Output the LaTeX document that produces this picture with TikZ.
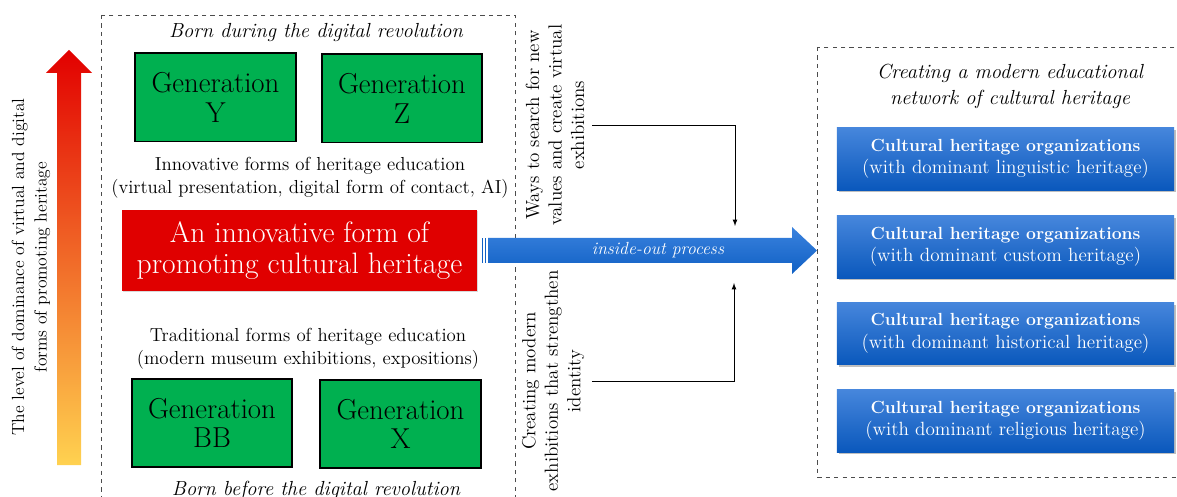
\documentclass[tikz,border=0pt]{standalone}
\usetikzlibrary{arrows,shapes}
\usetikzlibrary{shadows}
\usetikzlibrary{positioning}
\definecolor{gengreen}{RGB}{0,176,80}
\definecolor{promored}{RGB}{224,0,0}
\definecolor{orgtop}{RGB}{70,134,220}
\definecolor{orgbot}{RGB}{10,88,188}
\definecolor{flowtop}{RGB}{58,130,222}
\definecolor{flowbot}{RGB}{16,96,196}
\definecolor{lvlred}{RGB}{226,0,0}
\definecolor{lvlorange}{RGB}{255,136,0}
\definecolor{lvlyellow}{RGB}{255,210,80}
\tikzset{
    generation/.style={draw=black, line width=1.4pt, fill=gengreen,
        minimum width=4cm, minimum height=2.2cm, align=center,
        font=\fontsize{20.5}{21}\selectfont},
    promo/.style={fill=promored, text=white, minimum width=8.875cm,
        minimum height=2.025cm, align=center, font=\fontsize{21}{21.5}\selectfont,
        drop shadow={shadow xshift=1pt, shadow yshift=-1pt, opacity=0.3}},
    org/.style={top color=orgtop, bottom color=orgbot, text=white,
        minimum width=8.425cm, minimum height=1.55cm, align=center,
        font=\fontsize{13.6}{16}\selectfont,
        drop shadow={shadow xshift=1.5pt, shadow yshift=-1.5pt, opacity=0.5}},
    caption/.style={align=center, font=\fontsize{13.4}{16.3}\selectfont},
    heading/.style={align=center, font=\fontsize{14.5}{18.5}\selectfont\itshape},
    sidetext/.style={rotate=90, align=center, font=\fontsize{13.5}{16}\selectfont},
    dashframe/.style={draw=black!70, dashed, line width=0.6pt},
    feed/.style={draw=black, line width=0.6pt, ->},
}
\tikzset{>=latex}
\newcommand{\orgname}{{\fontsize{12.5}{16}\selectfont\bfseries Cultural heritage organizations}}

\begin{document}
\begin{tikzpicture}[x=0.025cm, y=-0.025cm]
\useasboundingbox (0,0) rectangle (1177,497);

% level of dominance
\shade[top color=lvlred, middle color=lvlorange, bottom color=lvlyellow]
    (57,465) -- (57,73) -- (46,73) -- (69,50) -- (92,73) -- (81,73) -- (81,465) -- cycle;
\node[sidetext, font=\fontsize{12.5}{16}\selectfont] (level) at (31,267)
    {The level of dominance of virtual and digital\\forms of promoting heritage};

% generations
\draw[dashframe] (101,15) rectangle (515,510);
\node[heading] (during) at (316,33) {Born during the digital revolution};
\node[generation] (genY) at (215.5,97.5) {Generation\\Y};
\node[generation] (genZ) at (402,98.5) {Generation\\Z};
\node[caption] (innov) at (310,178)
    {Innovative forms of heritage education\\(virtual presentation, digital form of contact, AI)};
\node[promo] (promo) at (299.5,250.5) {An innovative form of\\promoting cultural heritage};
\node[caption] (trad) at (308,349)
    {Traditional forms of heritage education\\(modern museum exhibitions, expositions)};
\node[generation] (genBB) at (212,423) {Generation\\BB};
\node[generation] (genX) at (400.5,424) {Generation\\X};
\node[heading] (before) at (316,490) {Born before the digital revolution};

% inside-out process
\shade[top color=flowtop, bottom color=flowbot]
    (488,238) -- (792,238) -- (792,227) -- (817,250.5) -- (792,274) -- (792,263) -- (488,263) -- cycle;
\foreach \x in {482,484.5}
    \fill[flowbot] (\x,238) rectangle ++(1.2,25);
\node[font=\fontsize{12.5}{14}\selectfont\itshape, text=white] (flow) at (658,250) {inside-out process};

\node[sidetext] (ways) at (555,125) {Ways to search for new\\values and create virtual\\exhibitions};
\node[sidetext] (ident) at (553,381) {Creating modern\\exhibitions that strengthen\\identity};
\coordinate (inTop) at (735,226);
\coordinate (inBot) at (734,283);
\draw[feed] ([xshift=2pt]ways.south) -| (inTop);
\draw[feed] ([xshift=2pt]ident.south) -| (inBot);

% network
\draw[dashframe] (817,47) rectangle (1190,477);
\node[heading] (network) at (1010,86) {Creating a modern educational\\network of cultural heritage};
\node[org] (ling) at (1005.5,159) {\orgname\\(with dominant linguistic heritage)};
\node[org] (cust) at (1005.5,247) {\orgname\\(with dominant custom heritage)};
\node[org] (hist) at (1005.5,333.5) {\orgname\\(with dominant historical heritage)};
\node[org] (relig) at (1005.5,421) {\orgname\\(with dominant religious heritage)};
\end{tikzpicture}
\end{document}
